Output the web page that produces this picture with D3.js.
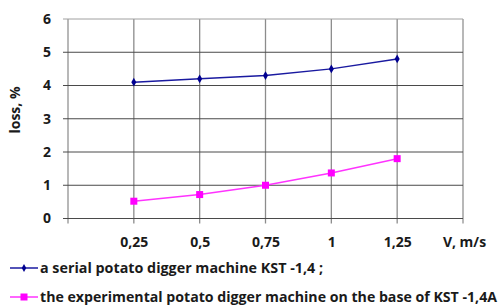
<!DOCTYPE html>
<html>
<head>
	<script src="https://d3js.org/d3.v7.min.js"></script>
	<meta charset="UTF-8">
	<style>
		body{ margin:0; background-color:#ffffff; }
		text{ font-family:"Open Sans", sans-serif; font-weight:700; fill:#1a1a1a; }
	</style>
</head>
<body>
	<script type="text/javascript">
		// data
		var speeds = [0.25, 0.5, 0.75, 1, 1.25];
		var serialLoss = [4.1, 4.2, 4.3, 4.5, 4.8];
		var expLoss = [0.52, 0.72, 1.0, 1.37, 1.8];
		var xTicks = [0, 0.25, 0.5, 0.75, 1, 1.25, 1.5];
		var yTicks = [0, 1, 2, 3, 4, 5, 6];
		var legendNames = ["a serial potato digger machine KST -1,4 ;",
			"the experimental potato digger machine on the base of KST -1,4A"];

		var w = 499, h = 306;
		var x0 = 68, x1 = 463, y0 = 218.5, y1 = 19;

		var xScale = d3.scaleLinear().domain([0, 1.5]).range([x0, x1]);
		var yScale = d3.scaleLinear().domain([0, 6]).range([y0, y1]);

		var svg = d3.select("body").append("svg").attr("width", w).attr("height", h);

		//grid
		svg.append("g").selectAll("line").data(xTicks).enter().append("line")
			.attr("x1", function(d){return xScale(d);}).attr("x2", function(d){return xScale(d);})
			.attr("y1", y1).attr("y2", y0 + 5)
			.attr("stroke", function(d){return (d == 0 || d == 1.5) ? "#b8b8b8" : "#8c8c8c";})
			.attr("stroke-width", function(d){return (d == 0 || d == 1.5) ? 2 : 1.3;});
		svg.append("g").selectAll("line").data(yTicks).enter().append("line")
			.attr("x1", x0 - 5).attr("x2", x1)
			.attr("y1", function(d){return yScale(d);}).attr("y2", function(d){return yScale(d);})
			.attr("stroke", function(d){return d == 6 ? "#a0a0a0" : "#4a4a4a";})
			.attr("stroke-width", 1);

		//axes labels
		var xAxis = d3.axisBottom(xScale).tickValues(xTicks).tickSize(0)
			.tickFormat(function(d){return (d == 0) ? "" : (d == 1.5 ? "V, m/s" : String(d).replace(".", ","));});
		var gx = svg.append("g").attr("transform", "translate(0," + (y0 + 16) + ")").call(xAxis);
		gx.select(".domain").remove();
		gx.selectAll("text").style("font-size", "14px").attr("fill", "#1a1a1a");
		gx.selectAll(".tick").filter(function(d){return d == 1.5;}).select("text").attr("dx", 1);

		var yAxis = d3.axisLeft(yScale).tickValues(yTicks).tickSize(0).tickFormat(d3.format("d"));
		var gy = svg.append("g").attr("transform", "translate(" + (x0 - 14) + ",0)").call(yAxis);
		gy.select(".domain").remove();
		gy.selectAll("text").style("font-size", "14px").attr("fill", "#1a1a1a").attr("text-anchor", "end");

		svg.append("text").attr("transform", "translate(20,110) rotate(-90)")
			.attr("text-anchor", "middle").style("font-size", "14px").text("loss, %");

		//lines
		var line = d3.line().x(function(d){return xScale(d[0]);}).y(function(d){return yScale(d[1]);});
		var serial = d3.zip(speeds, serialLoss);
		var exp = d3.zip(speeds, expLoss);

		svg.append("path").attr("d", line(serial)).attr("fill", "none").attr("stroke", "#1a1aa0").attr("stroke-width", 1.5);
		svg.append("g").selectAll("path").data(serial).enter().append("path")
			.attr("d", d3.symbol().type(d3.symbolDiamond).size(22))
			.attr("transform", function(d){return "translate(" + xScale(d[0]) + "," + yScale(d[1]) + ")";})
			.attr("fill", "#000090");

		svg.append("path").attr("d", line(exp)).attr("fill", "none").attr("stroke", "#ff33ff").attr("stroke-width", 1.5);
		svg.append("g").selectAll("rect").data(exp).enter().append("rect")
			.attr("x", function(d){return xScale(d[0]) - 3.5;}).attr("y", function(d){return yScale(d[1]) - 3.5;})
			.attr("width", 7).attr("height", 7).attr("fill", "#ff00ff");

		//legend
		var legY = [268, 297];
		svg.append("line").attr("x1", 10).attr("x2", 38).attr("y1", legY[0]).attr("y2", legY[0]).attr("stroke", "#1a1aa0").attr("stroke-width", 1.5);
		svg.append("path").attr("d", d3.symbol().type(d3.symbolDiamond).size(18)()).attr("transform", "translate(24," + legY[0] + ")").attr("fill", "#000090");
		svg.append("line").attr("x1", 10).attr("x2", 38).attr("y1", legY[1]).attr("y2", legY[1]).attr("stroke", "#ff33ff").attr("stroke-width", 1.5);
		svg.append("rect").attr("x", 20.5).attr("y", legY[1] - 3.5).attr("width", 7).attr("height", 7).attr("fill", "#ff00ff");

		var leg = svg.append("g").selectAll("text").data(legendNames).enter().append("text")
			.attr("x", 40).attr("y", function(d, i){return legY[i];}).attr("dy", "0.35em")
			.style("font-size", "14px").text(function(d){return d;});
		leg.filter(function(d, i){return i == 1;}).attr("textLength", 457).attr("lengthAdjust", "spacingAndGlyphs");
		leg.filter(function(d, i){return i == 0;}).attr("textLength", 283).attr("lengthAdjust", "spacingAndGlyphs");
	</script>
</body>
</html>
